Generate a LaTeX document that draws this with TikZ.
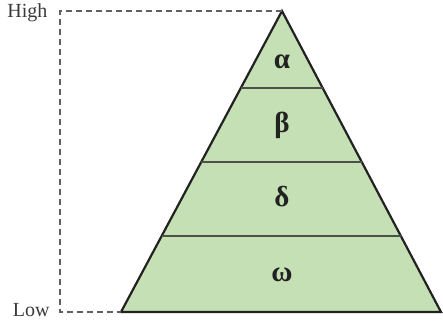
\documentclass[tikz,border=0pt]{standalone}
\usepackage{fontspec}
\setmainfont{Liberation Serif}
\usetikzlibrary{calc}
\definecolor{layergreen}{HTML}{C5E0B4}
\definecolor{edgegray}{HTML}{222222}
\definecolor{guidegray}{HTML}{606060}

\begin{document}
\begin{tikzpicture}[
    x=1pt, y=-1pt,
    every node/.style={font=\fontsize{20}{24}\selectfont},
    layer/.style={font=\fontsize{29}{32}\selectfont\bfseries, text=edgegray},
    guide/.style={guidegray, dashed, dash pattern=on 6pt off 4pt, line width=1.5pt},
]
\useasboundingbox (0,0) rectangle (443,322);
% corners of the pyramid
\coordinate (apex) at (282,11);
\coordinate (bl) at (121,312);
\coordinate (br) at (441,312);
\coordinate (top) at (60,11);
\coordinate (bot) at (60,312);
% pyramid body
\filldraw[fill=layergreen, draw=edgegray, line width=2.2pt, line join=miter]
    (apex) -- (bl) -- (br) -- cycle;
% layer boundaries
\foreach \t in {0.256, 0.502, 0.748}
    \draw[edgegray!75!layergreen, line width=1.6pt]
        ($(apex)!\t!(bl)$) -- ($(apex)!\t!(br)$);
% layer names
\node[layer] (alpha) at (282,62) {α};
\node[layer] (beta) at (282,125) {β};
\node[layer] (delta) at (282,197) {δ};
\node[layer] (omega) at (282,275) {ω};
% high / low scale
\node[anchor=east, text=guidegray!60!black] (high) at (51,13) {High};
\node[anchor=east, text=guidegray!60!black] (low) at (53,310) {Low};
\draw[guide] (apex) -- (top) -- (bot) -- (bl);
\end{tikzpicture}
\end{document}
